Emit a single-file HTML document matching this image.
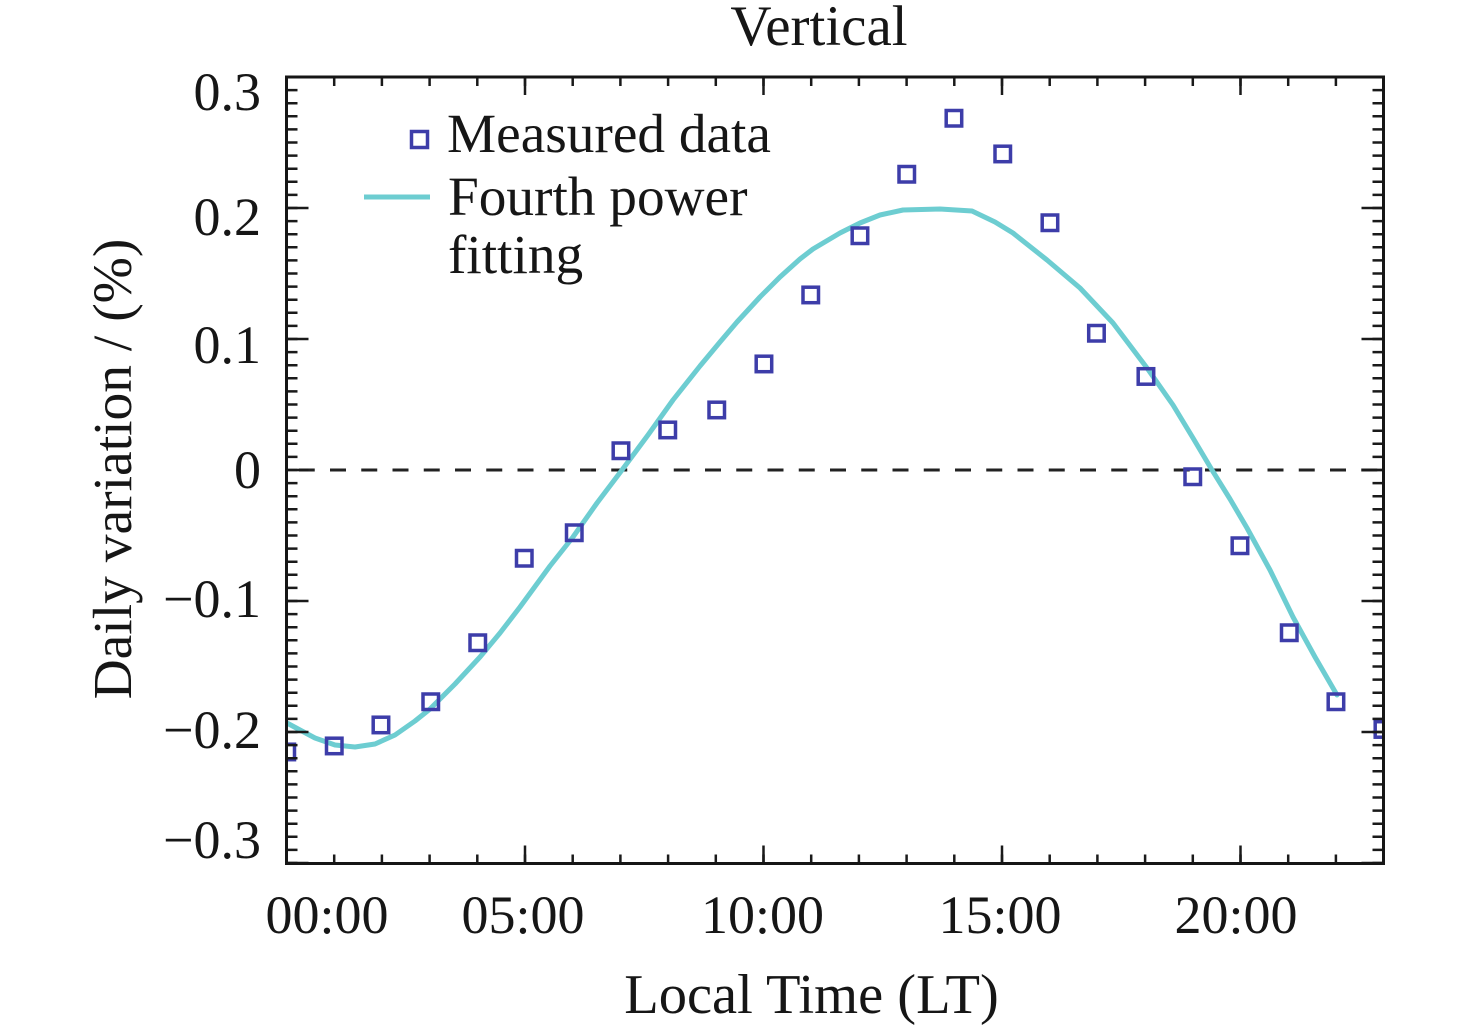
<!DOCTYPE html>
<html>
<head>
<meta charset="utf-8">
<style>
  html, body { margin: 0; padding: 0; background: #ffffff; }
  body { width: 1476px; height: 1031px; overflow: hidden; }
  svg { display: block; }
  text { font-family: "Liberation Serif", "Times New Roman", serif; fill: #161616; }
</style>
</head>
<body>
<svg width="1476" height="1031" viewBox="0 0 1476 1031" xmlns="http://www.w3.org/2000/svg">
  <defs>
    <clipPath id="plot">
      <rect x="286.5" y="77" width="1097" height="786.5"/>
    </clipPath>
  </defs>

  <!-- Title -->
  <text x="819" y="45" font-size="57" text-anchor="middle">Vertical</text>

  <!-- zero dashed line -->
  <line x1="298.75" y1="470" x2="1383.5" y2="470" stroke="#222" stroke-width="3" stroke-dasharray="16 15.25"/>

  <!-- Fitted curve -->
  <g clip-path="url(#plot)">
    <polyline fill="none" stroke="#6dcdd1" stroke-width="5" stroke-linejoin="round" stroke-linecap="round"
      points="287,723 300,730 315,738 335,745 355,747 375,744 395,735 415,721 430,709 455,684 480,657 500,633 520,607 550,566 573,537 597,503 622,470 648,435 673,400 700,366 720,342 737,322 760,297 780,277 800,259 813,249 840,233 860,223 880,215 903,210 940,209 972,211 995,222 1013,233 1047,260 1080,288 1113,323 1147,368 1173,405 1193,438 1212,470 1230,499 1247,528 1270,570 1293,617 1315,657 1337,695"/>

    <!-- Measured data markers -->
    <g fill="none" stroke="#3d3da9" stroke-width="3.5">
      <rect x="279" y="744.2" width="15.5" height="15.5"/>
      <rect x="326.5" y="738.2" width="15.5" height="15.5"/>
      <rect x="373.2" y="717.2" width="15.5" height="15.5"/>
      <rect x="423" y="694" width="15.5" height="15.5"/>
      <rect x="470" y="635" width="15.5" height="15.5"/>
      <rect x="516.5" y="550.5" width="15.5" height="15.5"/>
      <rect x="566.5" y="525" width="15.5" height="15.5"/>
      <rect x="613.2" y="443" width="15.5" height="15.5"/>
      <rect x="660" y="422.2" width="15.5" height="15.5"/>
      <rect x="709" y="402.2" width="15.5" height="15.5"/>
      <rect x="756.2" y="356.2" width="15.5" height="15.5"/>
      <rect x="803" y="287.2" width="15.5" height="15.5"/>
      <rect x="852.2" y="228" width="15.5" height="15.5"/>
      <rect x="899" y="166.5" width="15.5" height="15.5"/>
      <rect x="946.2" y="110.5" width="15.5" height="15.5"/>
      <rect x="995" y="146.2" width="15.5" height="15.5"/>
      <rect x="1042.2" y="215" width="15.5" height="15.5"/>
      <rect x="1088.7" y="325.5" width="15.5" height="15.5"/>
      <rect x="1138.2" y="368.7" width="15.5" height="15.5"/>
      <rect x="1185" y="469" width="15.5" height="15.5"/>
      <rect x="1232.2" y="538" width="15.5" height="15.5"/>
      <rect x="1281.5" y="625" width="15.5" height="15.5"/>
      <rect x="1328.2" y="694" width="15.5" height="15.5"/>
      <rect x="1375.2" y="721.7" width="15.5" height="15.5"/>
    </g>
  </g>

  <!-- Ticks -->
  <g stroke="#1a1a1a" fill="none">
    <!-- Y minor ticks left / right -->
    <line x1="292" y1="75.75" x2="292" y2="864.3" stroke-width="11" stroke-dasharray="2.5 10.6"/>
    <line x1="1378" y1="75.75" x2="1378" y2="864.3" stroke-width="11" stroke-dasharray="2.5 10.6"/>
    <!-- Y major ticks left / right -->
    <line x1="297.5" y1="75.75" x2="297.5" y2="864.3" stroke-width="22" stroke-dasharray="2.5 128.5"/>
    <line x1="1372.5" y1="75.75" x2="1372.5" y2="864.3" stroke-width="22" stroke-dasharray="2.5 128.5"/>
    <!-- X minor ticks bottom / top -->
    <line x1="285.25" y1="859" x2="1385" y2="859" stroke-width="9" stroke-dasharray="2.5 45.2"/>
    <line x1="285.25" y1="81.5" x2="1385" y2="81.5" stroke-width="9" stroke-dasharray="2.5 45.2"/>
    <!-- X major ticks -->
    <g stroke-width="2.5">
      <line x1="525" y1="845.5" x2="525" y2="863.5"/>
      <line x1="763.5" y1="845.5" x2="763.5" y2="863.5"/>
      <line x1="1002" y1="845.5" x2="1002" y2="863.5"/>
      <line x1="1240.5" y1="845.5" x2="1240.5" y2="863.5"/>
      <line x1="525" y1="77" x2="525" y2="95"/>
      <line x1="763.5" y1="77" x2="763.5" y2="95"/>
      <line x1="1002" y1="77" x2="1002" y2="95"/>
      <line x1="1240.5" y1="77" x2="1240.5" y2="95"/>
    </g>
  </g>

  <!-- Axes frame -->
  <rect x="286.5" y="77" width="1097" height="786.5" fill="none" stroke="#161616" stroke-width="3"/>

  <!-- Y tick labels -->
  <g font-size="54" text-anchor="end">
    <text x="261" y="110">0.3</text>
    <text x="261" y="235">0.2</text>
    <text x="261" y="363">0.1</text>
    <text x="261" y="488">0</text>
    <text x="261" y="617">−0.1</text>
    <text x="261" y="748">−0.2</text>
    <text x="261" y="858">−0.3</text>
  </g>

  <!-- X tick labels -->
  <g font-size="54" text-anchor="middle">
    <text x="327" y="933">00:00</text>
    <text x="523" y="933">05:00</text>
    <text x="762.5" y="933">10:00</text>
    <text x="1000" y="933">15:00</text>
    <text x="1236" y="933">20:00</text>
  </g>

  <!-- Axis titles -->
  <text x="811.5" y="1013" font-size="56.5" text-anchor="middle">Local Time (LT)</text>
  <text x="131" y="469" font-size="55.5" text-anchor="middle" transform="rotate(-90 131 469)">Daily variation / (%)</text>

  <!-- Legend -->
  <rect x="411.5" y="131.5" width="16" height="16" fill="none" stroke="#3d3da9" stroke-width="3.5"/>
  <line x1="364" y1="197" x2="430" y2="197" stroke="#6dcdd1" stroke-width="5"/>
  <g font-size="55.3">
    <text x="447" y="152">Measured data</text>
    <text x="448" y="215">Fourth power</text>
    <text x="448" y="273">fitting</text>
  </g>
</svg>
</body>
</html>
